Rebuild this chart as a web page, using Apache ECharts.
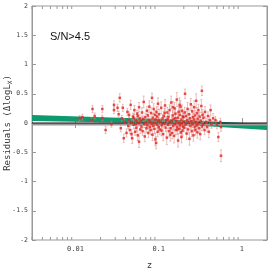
<!DOCTYPE html>
<html><head><meta charset="utf-8">
<script src="https://cdn.jsdelivr.net/npm/echarts@6/dist/echarts.min.js"></script>
<style>html,body{margin:0;padding:0;background:#fff}#c{width:274px;height:273px}</style>
</head><body><div id="c"></div>
<script>
// redshift of each object
const zVals = [
0.0112,0.0121,0.0156,0.016,0.017,0.021,0.021,0.023,0.027,0.029,0.029,0.032,0.034,0.033,0.035,0.037,0.036,0.038,0.041,0.039,
0.042,0.043,0.044,0.045,0.046,0.047,0.048,0.049,0.050,0.051,0.052,0.053,0.054,0.055,0.056,0.057,0.058,0.058,0.059,0.060,0.044,0.047,0.050,0.053,0.056,
0.061,0.062,0.063,0.064,0.065,0.066,0.067,0.068,0.069,0.070,0.071,0.072,0.073,0.074,0.075,0.076,0.077,0.078,0.079,0.080,
0.081,0.082,0.083,0.084,0.085,0.086,0.087,0.088,0.089,0.090,0.091,0.092,0.093,0.094,0.095,0.096,0.097,0.098,0.099,0.100,
0.101,0.103,0.105,0.107,0.109,0.111,0.113,0.115,0.117,0.119,0.121,0.123,0.125,0.127,0.129,0.131,0.133,0.135,0.137,0.139,
0.141,0.143,0.145,0.147,0.149,0.151,0.153,0.155,0.157,0.159,0.161,0.163,0.165,0.167,0.169,0.171,0.173,0.175,0.177,0.179,
0.181,0.183,0.185,0.187,0.189,0.191,0.193,0.195,0.197,0.199,0.108,0.118,0.128,0.138,0.148,0.158,0.168,0.178,0.188,0.198,
0.202,0.205,0.207,0.210,0.213,0.216,0.219,0.222,0.225,0.228,0.231,0.234,0.237,0.240,0.243,0.246,0.249,0.252,0.255,0.258,
0.261,0.264,0.267,0.270,0.273,0.276,0.279,0.282,0.285,0.288,0.291,0.294,0.297,0.300,0.305,0.310,0.315,0.320,0.325,0.330,
0.330,0.335,0.340,0.345,
0.355,0.36,0.37,0.38,0.39,0.40,0.41,0.42,0.43,0.45,0.48,0.50,0.52,0.55,0.56,0.56
];
// residuals Δlog Lx
const residuals = [
0.085,0.10,0.05,0.24,0.12,0.24,0.085,-0.12,-0.02,0.31,0.22,0.26,0.43,0.15,-0.09,0.26,0.08,-0.26,-0.17,0.02,
0.19,-0.05,0.05,-0.12,0.31,0.01,-0.26,0.11,-0.03,0.22,-0.15,0.04,-0.08,0.16,-0.21,0.00,-0.32,0.27,0.08,-0.11,0.14,-0.19,0.09,-0.02,0.12,
0.03,-0.06,0.18,-0.14,0.07,0.36,-0.02,-0.23,0.10,0.01,-0.09,0.21,-0.04,0.13,-0.17,0.05,0.28,-0.07,0.02,-0.12,
0.17,-0.01,0.43,-0.20,0.09,-0.05,0.24,0.00,-0.10,0.14,-0.28,0.06,-0.34,0.19,-0.03,0.11,-0.15,0.33,0.04,-0.07,
0.15,-0.11,0.02,0.26,-0.04,0.08,-0.19,0.12,-0.01,0.30,-0.08,0.05,-0.25,0.18,-0.03,0.10,-0.14,0.22,0.01,-0.09,
0.35,0.04,-0.17,0.13,-0.05,0.07,-0.22,0.25,-0.02,0.16,-0.12,0.03,0.40,-0.07,0.09,-0.30,0.19,0.00,-0.10,0.14,
-0.04,0.28,-0.16,0.06,-0.01,0.21,-0.13,0.11,-0.06,0.02,-0.13,0.17,0.06,-0.20,0.27,0.08,-0.11,0.31,-0.24,0.10,
-0.08,0.18,0.50,-0.03,0.12,-0.18,0.05,0.24,-0.11,0.01,0.15,-0.27,0.08,-0.05,0.32,0.03,-0.14,0.20,-0.02,0.10,
-0.21,0.06,0.27,-0.07,0.13,-0.12,0.02,0.38,-0.04,0.17,-0.16,0.07,-0.01,0.22,-0.09,0.11,-0.19,0.04,0.29,0.55,
-0.06,0.14,-0.03,0.09,
-0.12,0.19,0.02,-0.07,0.12,-0.15,0.05,0.22,-0.02,0.08,0.05,-0.03,-0.24,0.02,-0.07,-0.56
];
// 1-sigma error on the residuals
const errors = [
0.04,0.05,0.04,0.06,0.05,0.06,0.05,0.06,0.05,0.07,0.06,0.06,0.07,0.05,0.06,0.06,0.05,0.07,0.07,0.05,
0.06,0.05,0.07,0.06,0.08,0.05,0.09,0.06,0.07,0.08,0.06,0.05,0.07,0.06,0.09,0.05,0.10,0.08,0.06,0.07,0.05,0.08,0.06,0.07,0.06,
0.07,0.06,0.08,0.07,0.05,0.10,0.06,0.09,0.07,0.05,0.08,0.07,0.06,0.09,0.08,0.06,0.10,0.07,0.05,0.08,
0.09,0.06,0.08,0.10,0.07,0.06,0.09,0.05,0.08,0.07,0.11,0.06,0.10,0.09,0.07,0.06,0.08,0.10,0.05,0.07,
0.08,0.09,0.06,0.10,0.07,0.06,0.11,0.08,0.05,0.10,0.07,0.06,0.12,0.09,0.07,0.06,0.10,0.09,0.05,0.08,
0.11,0.06,0.10,0.08,0.07,0.06,0.12,0.10,0.05,0.09,0.08,0.06,0.12,0.07,0.08,0.11,0.09,0.05,0.08,0.07,
0.06,0.10,0.09,0.07,0.05,0.10,0.08,0.07,0.06,0.05,0.09,0.08,0.06,0.11,0.10,0.07,0.08,0.12,0.10,0.06,
0.07,0.09,0.08,0.06,0.08,0.10,0.05,0.11,0.08,0.06,0.09,0.11,0.07,0.06,0.10,0.05,0.09,0.10,0.06,0.07,
0.10,0.06,0.11,0.07,0.08,0.09,0.05,0.12,0.06,0.09,0.10,0.07,0.05,0.10,0.08,0.07,0.10,0.06,0.11,0.08,
0.07,0.09,0.06,0.08,
0.08,0.09,0.06,0.08,0.07,0.10,0.06,0.09,0.07,0.08,0.06,0.07,0.08,0.06,0.07,0.10
];
// best-fit evolution band (z, lower, upper)
const bandZ = [0.003, 0.1, 2];
const bandLow = [0.035, -0.005, -0.12];
const bandHigh = [0.135, 0.068, -0.015];
// zero reference line
const zeroZ = [0.003, 2];
// log minor tick positions
const minorTickZ = [0.003,0.004,0.005,0.006,0.007,0.008,0.009,0.02,0.03,0.04,0.05,0.06,0.07,0.08,0.09,0.2,0.3,0.4,0.5,0.6,0.7,0.8,0.9];
const yTickLabels = ['-2','-1.5','-1','-0.5','0','0.5','1','1.5','2'];

const chart = echarts.init(document.getElementById('c'), null, {renderer:'canvas'});
const mono = 'DejaVu Sans Mono';
const pts = zVals.map((z,i)=>[z, residuals[i], errors[i]]);

const option = {
  animation:false,
  grid:{left:32, right:7, top:6, bottom:33, show:true, borderColor:'#999', borderWidth:1, containLabel:false, outerBoundsMode:'none'},
  xAxis:[{
    type:'log', logBase:10, min:0.003, max:2,
    name:'z', nameLocation:'middle', nameGap:21, nameMoveOverlap:false,
    nameTextStyle:{fontFamily:mono, fontSize:9, color:'#333'},
    axisLine:{show:true, lineStyle:{color:'#999'}},
    axisTick:{show:true, inside:true, length:5, lineStyle:{color:'#999'}},
    axisLabel:{fontFamily:mono, fontSize:7, color:'#444', margin:6, showMinLabel:false, showMaxLabel:false,
      formatter:v=>{ if (Math.abs(v-0.01)<1e-9) return '0.01'; if (Math.abs(v-0.1)<1e-9) return '0.1'; if (Math.abs(v-1)<1e-9) return '1'; return ''; }},
    splitLine:{show:false}, minorTick:{show:false}
  },{
    type:'log', logBase:10, min:0.003, max:2, position:'top',
    axisLine:{show:true, lineStyle:{color:'#999'}},
    axisTick:{show:true, inside:true, length:5, lineStyle:{color:'#999'}},
    axisLabel:{show:false}, splitLine:{show:false}
  }],
  yAxis:[{
    type:'value', min:-2, max:2, interval:0.5,
    name:'Residuals (ΔlogL{s|X})', nameLocation:'middle', nameGap:19, nameRotate:90, nameMoveOverlap:false,
    nameTextStyle:{fontFamily:mono, fontSize:9, color:'#333', rich:{s:{fontFamily:mono, fontSize:6, color:'#333', padding:[5,0,0,0]}}},
    axisLine:{show:true, lineStyle:{color:'#999'}},
    axisTick:{show:true, inside:true, length:4, lineStyle:{color:'#999'}},
    axisLabel:{fontFamily:mono, fontSize:6.5, color:'#444', margin:4,
      formatter:v=>yTickLabels[Math.round((v+2)/0.5)]},
    splitLine:{show:false}
  },{
    type:'value', min:-2, max:2, interval:0.5, position:'right',
    axisLine:{show:true, lineStyle:{color:'#999'}},
    axisTick:{show:true, inside:true, length:4, lineStyle:{color:'#999'}},
    axisLabel:{show:false}, splitLine:{show:false}
  }],
  graphic:[{type:'text', left:50, top:31, style:{text:'S/N>4.5', font:'11px "Liberation Sans"', fill:'#111'}}],
  series:[
    { // minor log ticks bottom & top
      type:'custom', xAxisIndex:0, yAxisIndex:0, silent:true, z:1,
      data: minorTickZ.map(z=>[z]),
      renderItem:(params, api)=>{
        const xb = api.coord([api.value(0), -2]);
        const xt = api.coord([api.value(0), 2]);
        return {type:'group', children:[
          {type:'line', shape:{x1:xb[0], y1:xb[1], x2:xb[0], y2:xb[1]-3}, style:{stroke:'#999', lineWidth:1}},
          {type:'line', shape:{x1:xt[0], y1:xt[1], x2:xt[0], y2:xt[1]+3}, style:{stroke:'#999', lineWidth:1}}
        ]};
      }
    },
    { // green band
      type:'custom', silent:true, z:2,
      data:[[0]],
      renderItem:(params, api)=>{
        const top = bandZ.map((z,i)=>api.coord([z, bandHigh[i]]));
        const bot = bandZ.map((z,i)=>api.coord([z, bandLow[i]])).reverse();
        return {type:'polygon', shape:{points: top.concat(bot)}, style:{fill:'#0e9a6e'}};
      }
    },
    {type:'line', data:zeroZ.map(z=>[z,-0.028]), symbol:'none', silent:true, z:3,
      lineStyle:{color:'#9a9a9a', width:1.6}},
    {type:'line', data:zeroZ.map(z=>[z,0]), symbol:'none', silent:true, z:4,
      lineStyle:{color:'#111', width:1}},
    { // error bars
      type:'custom', silent:true, z:5,
      data: pts,
      renderItem:(params, api)=>{
        const z = api.value(0), v = api.value(1), e = api.value(2);
        const hi = api.coord([z, v+e]), lo = api.coord([z, v-e]);
        const c = 'rgba(215,130,130,0.5)';
        return {type:'group', children:[
          {type:'line', shape:{x1:hi[0], y1:hi[1], x2:lo[0], y2:lo[1]}, style:{stroke:c, lineWidth:1}},
          {type:'line', shape:{x1:hi[0]-1, y1:hi[1], x2:hi[0]+1, y2:hi[1]}, style:{stroke:c, lineWidth:1}},
          {type:'line', shape:{x1:lo[0]-1, y1:lo[1], x2:lo[0]+1, y2:lo[1]}, style:{stroke:c, lineWidth:1}}
        ]};
      }
    },
    {type:'scatter', data:pts.map(p=>[p[0],p[1]]), symbol:'rect', symbolSize:2.5, z:6,
      itemStyle:{color:'#e3241b'}}
  ]
};
chart.setOption(option);
</script></body></html>
